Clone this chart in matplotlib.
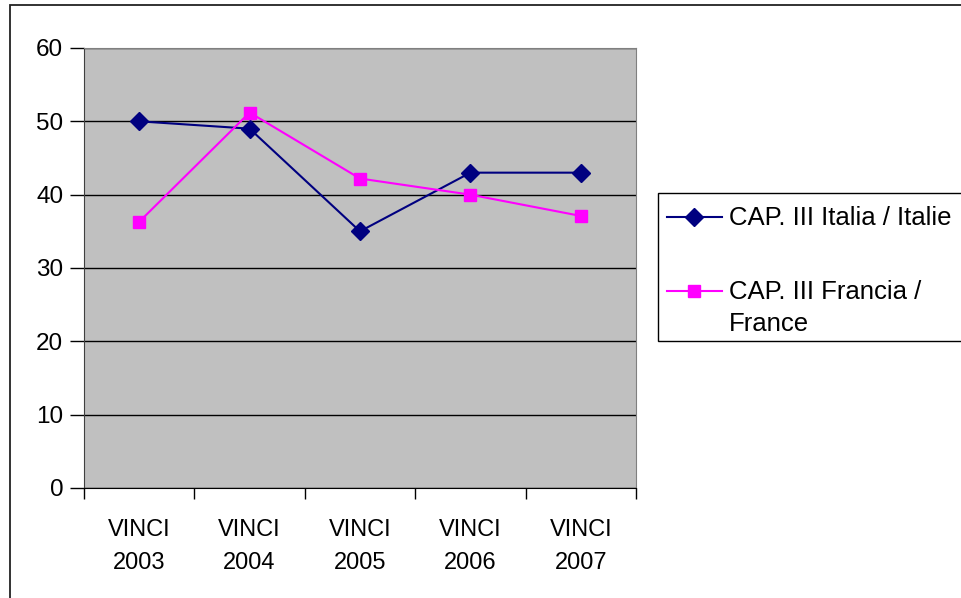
import matplotlib
matplotlib.use("Agg")
import matplotlib.pyplot as plt
from matplotlib.lines import Line2D
from matplotlib.patches import Rectangle

categories = ["VINCI\n2003", "VINCI\n2004", "VINCI\n2005", "VINCI\n2006", "VINCI\n2007"]
italia = [50, 49, 35, 43, 43]
francia = [36.3, 51.2, 42.2, 40, 37.1]
series_labels = ["CAP. III Italia / Italie", "CAP. III Francia /\nFrance"]
yticks = [0, 10, 20, 30, 40, 50, 60]

plt.rcParams['font.family'] = ["Liberation Sans", "DejaVu Sans"]

W, H = 961, 598
fig = plt.figure(figsize=(W / 100, H / 100), dpi=100)
fig.patch.set_facecolor("white")

# outer chart frame
fig.add_artist(Rectangle((10 / W, -0.05), 1.1, 1 - 5 / H + 0.05, transform=fig.transFigure,
                         fill=False, edgecolor="#222222", linewidth=1.3))

ax = fig.add_axes([84 / W, 1 - 488 / H, (636 - 84) / W, (488 - 48) / H])
ax.set_facecolor("#C0C0C0")
x = list(range(len(categories)))
ax.plot(x, italia, color="#000080", marker="D", markersize=9, linewidth=1.5, zorder=3)
ax.plot(x, francia, color="#FF00FF", marker="s", markersize=8.5, linewidth=1.5, zorder=3)

ax.set_xlim(-0.5, len(categories) - 0.5)
ax.set_ylim(0, 60)
ax.set_yticks(yticks)
ax.set_yticklabels([str(v) for v in yticks], fontsize=17.5)
ax.yaxis.grid(True, color="black", linewidth=1)
ax.set_axisbelow(True)
ax.set_xticks([i - 0.5 for i in range(len(categories) + 1)])
ax.set_xticklabels([])
ax.set_xticks(x, minor=True)
ax.set_xticklabels(categories, minor=True, fontsize=17, linespacing=1.66)
ax.tick_params(axis="x", which="major", direction="out", length=8, width=1)
ax.tick_params(axis="x", which="minor", length=0, pad=22.5)
ax.tick_params(axis="y", direction="out", length=10, width=1, pad=5)
for s in ["top", "right"]:
    ax.spines[s].set_color("#808080")
ax.spines["left"].set_color("#404040")
ax.spines["bottom"].set_color("black")

# legend box (drawn manually to match the original layout)
fig.add_artist(Rectangle((658 / W, 1 - 341 / H), 0.5, (341 - 193) / H, transform=fig.transFigure,
                         fill=True, facecolor="white", edgecolor="black", linewidth=1))
leg_styles = [("#000080", "D", 9), ("#FF00FF", "s", 8.5)]
leg_y = [217, 291]
for (c, m, ms), yy, lab in zip(leg_styles, leg_y, series_labels):
    fy = 1 - yy / H
    fig.add_artist(Line2D([667 / W, 722 / W], [fy, fy], transform=fig.transFigure,
                          color=c, linewidth=1.5))
    fig.add_artist(Line2D([694 / W], [fy], transform=fig.transFigure, color=c,
                          marker=m, markersize=ms, linestyle="none"))
    fig.text(729 / W, fy + 11 / H, lab, fontsize=18.5, ha="left", va="top", linespacing=1.42)

fig.savefig("out.png", dpi=100)
